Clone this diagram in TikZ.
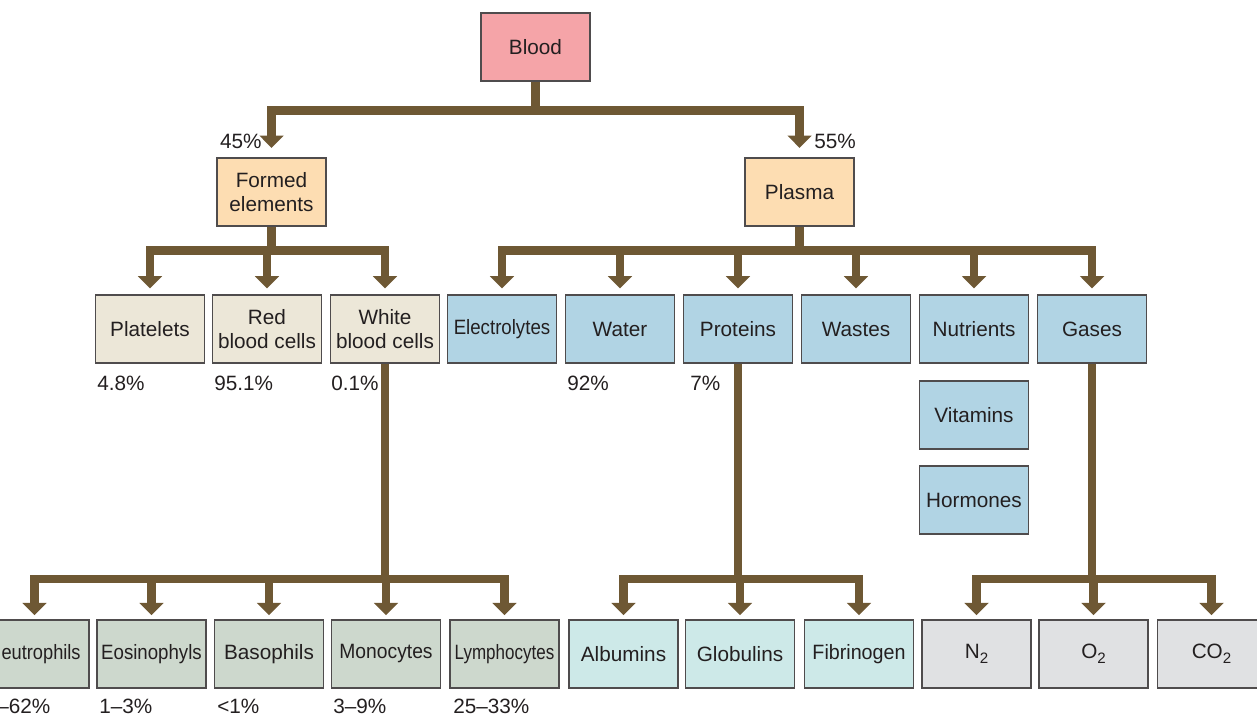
\documentclass[tikz,border=0pt]{standalone}
\usepackage{fontspec}
\setmainfont{Liberation Sans}
\usetikzlibrary{arrows.meta, calc}
\definecolor{BloodPink}{RGB}{245,164,168}
\definecolor{TierPeach}{RGB}{253,221,178}
\definecolor{CellBeige}{RGB}{236,231,216}
\definecolor{PlasmaBlue}{RGB}{177,212,228}
\definecolor{WbcGreen}{RGB}{205,216,205}
\definecolor{ProtCyan}{RGB}{205,233,232}
\definecolor{GasGray}{RGB}{224,225,227}
\definecolor{Stem}{RGB}{110,88,52}
\definecolor{Ink}{RGB}{35,31,32}
\newcommand{\squeeze}[2]{\scalebox{#1}[1]{#2}}
\newcommand{\lowidx}[1]{\raisebox{-0.45ex}{\fontsize{8.6}{9}\selectfont #1}}

\begin{document}
\begin{tikzpicture}[x=0.02cm, y=-0.02cm,
          box/.style={rectangle, draw=Ink!80, line width=0.6pt, minimum width=2.18cm,
                      minimum height=1.36cm, inner sep=1pt, align=center, text=Ink,
                      font=\fontsize{11.8}{13.6}\selectfont},
          pct/.style={inner sep=0pt, text=Ink, font=\fontsize{11.8}{13.6}\selectfont},
          trunk/.style={draw=Stem, line width=4.6pt, line cap=rect},
          stem/.style={draw=Stem, line width=4.6pt, line cap=butt},
          arr/.style={draw=Stem, line width=4.6pt,
                      -{Triangle[width=13.5pt,length=7pt]}, shorten >=2.5pt}
        ]
        \useasboundingbox (0,0) rectangle (1257,715);
        \clip (0,0) rectangle (1257,715);

        % Top levels
        \node[box, fill=BloodPink] (blood) at (535.5,47) {Blood};
        \node[box, fill=TierPeach] (formed) at (271.5,192) {Formed\\elements};
        \node[box, fill=TierPeach] (plasma) at (799.5,192) {Plasma};

        % Formed elements
        \node[box, fill=CellBeige] (platelets) at (150,329) {Platelets};
        \node[box, fill=CellBeige] (rbc) at (267,329) {Red\\blood cells};
        \node[box, fill=CellBeige] (wbc) at (385,329) {White\\blood cells};

        % Plasma parts
        \node[box, fill=PlasmaBlue] (electro) at (502,329) {\squeeze{0.9}{Electrolytes}};
        \node[box, fill=PlasmaBlue] (water) at (620,329) {Water};
        \node[box, fill=PlasmaBlue] (proteins) at (738,329) {Proteins};
        \node[box, fill=PlasmaBlue] (wastes) at (856,329) {Wastes};
        \node[box, fill=PlasmaBlue] (nutrients) at (974,329) {Nutrients};
        \node[box, fill=PlasmaBlue] (gases) at (1092,329) {Gases};
        \node[box, fill=PlasmaBlue] (vitamins) at (974,415) {Vitamins};
        \node[box, fill=PlasmaBlue] (hormones) at (974,500) {Hormones};

        % White cell types
        \node[box, fill=WbcGreen] (neutro) at (34.5,654) {\squeeze{0.88}{Neutrophils}};
        \node[box, fill=WbcGreen] (eosino) at (151.5,654) {\squeeze{0.9}{Eosinophyls}};
        \node[box, fill=WbcGreen] (baso) at (269,654) {Basophils};
        \node[box, fill=WbcGreen] (mono) at (386,654) {\squeeze{0.93}{Monocytes}};
        \node[box, fill=WbcGreen] (lympho) at (504.5,654) {\squeeze{0.82}{Lymphocytes}};

        % Protein types
        \node[box, fill=ProtCyan] (albumins) at (623.5,654) {Albumins};
        \node[box, fill=ProtCyan] (globulins) at (740,654) {Globulins};
        \node[box, fill=ProtCyan] (fibrin) at (859,654) {\squeeze{0.95}{Fibrinogen}};

        % Gas types
        \node[box, fill=GasGray] (ntwo) at (976.5,654) {N\lowidx{2}};
        \node[box, fill=GasGray] (otwo) at (1093.5,654) {O\lowidx{2}};
        \node[box, fill=GasGray] (cotwo) at (1211.5,654) {CO\lowidx{2}};

        % Percentages
        \node[pct, anchor=east] (pFormed) at (262,141) {45\%};
        \node[pct, anchor=west] (pPlasma) at (814,141) {55\%};
        \node[pct, anchor=west] (pPlt) at (97,383) {4.8\%};
        \node[pct, anchor=west] (pRbc) at (214,383) {95.1\%};
        \node[pct, anchor=west] (pWbc) at (331,383) {0.1\%};
        \node[pct, anchor=west] (pWater) at (567,383) {92\%};
        \node[pct, anchor=west] (pProt) at (690,383) {7\%};
        \node[pct, anchor=west] (pNeutro) at (-3,706) {--62\%};
        \node[pct, anchor=west] (pEosino) at (99,706) {1--3\%};
        \node[pct, anchor=west] (pBaso) at (217,706) {<1\%};
        \node[pct, anchor=west] (pMono) at (333,706) {3--9\%};
        \node[pct, anchor=west] (pLympho) at (453,706) {25--33\%};

        % Junction levels
        \coordinate (j1) at ($(blood.south)+(0,29)$);
        \coordinate (j2) at ($(formed.south)+(0,24)$);
        \coordinate (j3) at (0,579);

        % Blood -> formed elements / plasma
        \draw[stem] (blood.south) -- (j1);
        \draw[trunk] (formed.north |- j1) -- (plasma.north |- j1);
        \draw[arr, shorten >=5.5pt] (formed.north |- j1) -- (formed.north);
        \draw[arr, shorten >=5.5pt] (plasma.north |- j1) -- (plasma.north);

        % Formed elements -> cells
        \draw[stem] (formed.south) -- (formed.south |- j2);
        \draw[trunk] (platelets.north |- j2) -- (wbc.north |- j2);
        \foreach \n in {platelets, rbc, wbc}
          \draw[arr, shorten >=3.5pt] (\n.north |- j2) -- (\n.north);

        % Plasma -> parts
        \draw[stem] (plasma.south) -- (plasma.south |- j2);
        \draw[trunk] (electro.north |- j2) -- (gases.north |- j2);
        \foreach \n in {electro, water, proteins, wastes, nutrients, gases}
          \draw[arr, shorten >=3.5pt] (\n.north |- j2) -- (\n.north);

        % White blood cells -> types
        \draw[stem] (wbc.south) -- (wbc.south |- j3);
        \draw[trunk] (neutro.north |- j3) -- (lympho.north |- j3);
        \foreach \n in {neutro, eosino, baso, mono, lympho}
          \draw[arr] (\n.north |- j3) -- (\n.north);

        % Proteins -> types
        \draw[stem] (proteins.south) -- (proteins.south |- j3);
        \draw[trunk] (albumins.north |- j3) -- (fibrin.north |- j3);
        \foreach \n in {albumins, globulins, fibrin}
          \draw[arr] (\n.north |- j3) -- (\n.north);

        % Gases -> types
        \draw[stem] (gases.south) -- (gases.south |- j3);
        \draw[trunk] (ntwo.north |- j3) -- (cotwo.north |- j3);
        \foreach \n in {ntwo, otwo, cotwo}
          \draw[arr] (\n.north |- j3) -- (\n.north);
      \end{tikzpicture}
\end{document}
